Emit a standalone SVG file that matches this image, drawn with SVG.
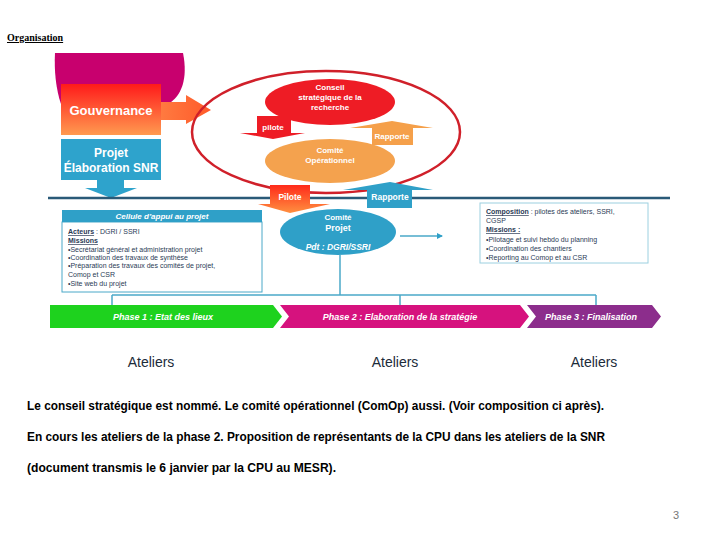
<svg xmlns="http://www.w3.org/2000/svg" width="720" height="540" viewBox="0 0 720 540">
<defs>
<linearGradient id="gGov" x1="0" y1="0" x2="0" y2="1"><stop offset="0" stop-color="#ff1a1a"/><stop offset="1" stop-color="#ff9a50"/></linearGradient>
<linearGradient id="gArr" x1="0" y1="0" x2="1" y2="0"><stop offset="0" stop-color="#ff7a40"/><stop offset="1" stop-color="#ff5a2a"/></linearGradient>
<linearGradient id="gPil" x1="0" y1="0" x2="0" y2="1"><stop offset="0" stop-color="#ff2a1a"/><stop offset="1" stop-color="#ff9040"/></linearGradient>
<marker id="ah" markerWidth="6" markerHeight="6" refX="5" refY="3" orient="auto" markerUnits="userSpaceOnUse"><path d="M0,0 L6,3 L0,6 Z" fill="#2fa0c8"/></marker>
<style>
.w{font-family:"Liberation Sans",Arial,sans-serif;font-weight:bold;fill:#fff;text-anchor:middle}
.t{font-family:"Liberation Sans",Arial,sans-serif;fill:#2a3a55;font-size:7px}
.tb{font-weight:bold;text-decoration:underline}
.ph{font-family:"Liberation Sans",Arial,sans-serif;font-weight:bold;font-style:italic;fill:#fff;font-size:9px;text-anchor:middle}
.at{font-family:"Liberation Sans",Arial,sans-serif;fill:#1c2b3a;font-size:14px;text-anchor:middle}
.body{font-family:"Liberation Sans",Arial,sans-serif;font-weight:bold;fill:#000;font-size:12.5px}
.conn{stroke:#4aa8c8;stroke-width:1.5;fill:none}
</style>
</defs>
<rect width="720" height="540" fill="#fff"/>
<text x="7" y="41" font-family="Liberation Serif,serif" font-weight="bold" font-size="10" text-decoration="underline" fill="#000">Organisation</text>

<g id="gouvernance">
<path d="M55,53 H183 C188,78 182,96 168,104 L61,104 C56,90 54,70 55,53 Z" fill="#c8006e"/>
<rect x="61" y="84" width="100" height="51" fill="url(#gGov)"/>
<text class="w" x="111" y="115" font-size="13">Gouvernance</text>
<path d="M161,102 H186 V95 L211,110 L186,124 V120 H161 Z" fill="url(#gArr)"/>
</g>

<g id="projet">
<rect x="61" y="139" width="100" height="41" fill="#2ea3cc"/>
<text class="w" x="111" y="157" font-size="12">Projet</text>
<text class="w" x="111" y="172" font-size="12">Élaboration SNR</text>
<path d="M97,180 H124 V188 H137 L111,198 L85,188 H97 Z" fill="#2ea3cc"/>
</g>

<g id="cadre">
<ellipse cx="326" cy="132" rx="134" ry="61" fill="none" stroke="#d0202a" stroke-width="2.5"/>
</g>

<g id="conseil">
<ellipse cx="330" cy="102" rx="65" ry="23" fill="#ee1c25"/>
<text class="w" x="330" y="90" font-size="8">Conseil</text>
<text class="w" x="330" y="100" font-size="8">stratégique de la</text>
<text class="w" x="330" y="110" font-size="8">recherche</text>
</g>

<g id="pilote1">
<path d="M257,116 H291 V133 H305 L273,139 L240,133 H257 Z" fill="#ee1c25"/>
<text class="w" x="273" y="130" font-size="8">pilote</text>
</g>

<g id="rapporte1">
<path d="M392,121 L433,128 H413 V145 H372 V128 H350 Z" fill="#f5a04a"/>
<text class="w" x="392" y="139" font-size="8">Rapporte</text>
</g>

<g id="comop">
<ellipse cx="330" cy="161" rx="65" ry="22" fill="#f4a24e"/>
<text class="w" x="330" y="153" font-size="8">Comité</text>
<text class="w" x="330" y="163" font-size="8">Opérationnel</text>
</g>

<line x1="48" y1="198" x2="670" y2="198" stroke="#2a5a78" stroke-width="2.5"/>

<g id="pilote2">
<path d="M270,185 H310 V204 H330 L290,213 L258,204 H270 Z" fill="url(#gPil)"/>
<text class="w" x="290" y="200" font-size="8.5">Pilote</text>
</g>

<g id="rapporte2">
<path d="M390,182 L433,190 H412 V208 H367 V190 H343 Z" fill="#2fa0c8"/>
<text class="w" x="390" y="200" font-size="8.5">Rapporte</text>
</g>

<g id="comite-projet">
<ellipse cx="338" cy="232" rx="58" ry="23" fill="#2fa0c8"/>
<text class="w" x="338" y="220" font-size="8">Comité</text>
<text class="w" x="338" y="231" font-size="9">Projet</text>
<text class="w" x="338" y="250" font-size="8.5" font-style="italic">Pdt : DGRI/SSRI</text>
</g>

<g id="cellule">
<rect x="62" y="222" width="200" height="70" fill="#fff" stroke="#4aa8c8" stroke-width="1"/>
<rect x="62" y="210" width="200" height="12" fill="#2fa0c8"/>
<text class="w" x="162" y="219" font-size="8" font-style="italic">Cellule d’appui au projet</text>
<text class="t" x="68" y="234"><tspan class="tb">Acteurs</tspan> : DGRI / SSRI</text>
<text class="t tb" x="68" y="243">Missions</text>
<text class="t" x="68" y="252">•Secrétariat général et administration projet</text>
<text class="t" x="68" y="260">•Coordination des travaux de synthèse</text>
<text class="t" x="68" y="268" font-size="6.7">•Préparation des travaux des comités de projet,</text>
<text class="t" x="68" y="277" font-size="6.7">Comop et CSR</text>
<text class="t" x="68" y="286" font-size="6.7">•Site web du projet</text>
</g>

<g id="composition">
<rect x="480" y="203" width="168" height="60" fill="#fff" stroke="#9cd0e0" stroke-width="1"/>
<text class="t" x="486" y="214" font-size="7.5"><tspan class="tb">Composition</tspan> : pilotes des ateliers, SSRI,</text>
<text class="t" x="486" y="223" font-size="7.5">CGSP</text>
<text class="t tb" x="486" y="232" font-size="7.5">Missions :</text>
<text class="t" x="486" y="242" font-size="7.5">•Pilotage et suivi hebdo du planning</text>
<text class="t" x="486" y="251" font-size="7.5">•Coordination des chantiers</text>
<text class="t" x="486" y="260" font-size="7.5">•Reporting au Comop et au CSR</text>
</g>

<g id="connectors">
<line class="conn" x1="400" y1="236" x2="442" y2="236" marker-end="url(#ah)"/>
<line class="conn" x1="340" y1="255" x2="340" y2="295"/>
<line class="conn" x1="112" y1="295" x2="596" y2="295"/>
<line class="conn" x1="112" y1="295" x2="112" y2="305"/>
<line class="conn" x1="400" y1="295" x2="400" y2="305"/>
<line class="conn" x1="596" y1="295" x2="596" y2="305"/>
</g>

<g id="phase1">
<path d="M50,305 H273 L282,316.5 L273,328 H50 Z" fill="#1ed21e"/>
<text class="ph" x="163" y="320">Phase 1 : Etat des lieux</text>
</g>
<g id="phase2">
<path d="M280,305 H520 L529,316.5 L520,328 H280 L289,316.5 Z" fill="#d6127e"/>
<text class="ph" x="400" y="320">Phase 2 : Elaboration de la stratégie</text>
</g>
<g id="phase3">
<path d="M527,305 H652 L661,316.5 L652,328 H527 L536,316.5 Z" fill="#8c2d8c"/>
<text class="ph" x="591" y="320">Phase 3 : Finalisation</text>
</g>

<text class="at" x="151" y="367">Ateliers</text>
<text class="at" x="395" y="367">Ateliers</text>
<text class="at" x="594" y="367">Ateliers</text>

<text class="body" x="27" y="410" textLength="577" lengthAdjust="spacingAndGlyphs">Le conseil stratégique est nommé. Le comité opérationnel (ComOp) aussi. (Voir composition ci après).</text>
<text class="body" x="27" y="441" textLength="578" lengthAdjust="spacingAndGlyphs">En cours les ateliers de la phase 2. Proposition de représentants de la CPU dans les ateliers de la SNR</text>
<text class="body" x="27" y="472" textLength="309" lengthAdjust="spacingAndGlyphs">(document transmis le 6 janvier par la CPU au MESR).</text>
<text x="673" y="519" font-family="Liberation Sans,Arial,sans-serif" font-size="11" fill="#777">3</text>
</svg>
